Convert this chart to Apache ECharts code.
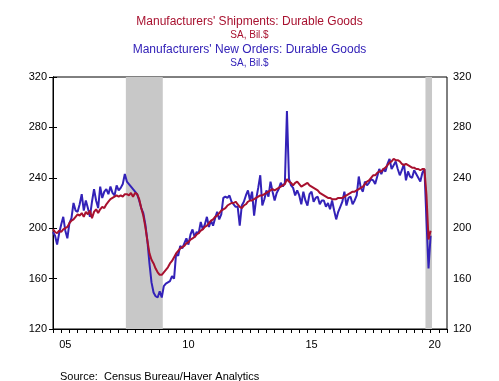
<!DOCTYPE html>
<html>
<head>
<meta charset="utf-8">
<script src="https://cdn.jsdelivr.net/npm/echarts@6/dist/echarts.min.js"></script>
<style>
html,body{margin:0;padding:0;background:#fff;}
#chart{width:499px;height:381px;}
</style>
</head>
<body>
<div id="chart"></div>
<script>
// Monthly data, Jan 2005 .. May 2020
const startYear = 2005;
const shipments = [
  199, 197, 196, 198, 197, 199, 200, 201, 204, 206, 207, 209,
  211, 210, 212, 209, 213, 211, 214, 208, 213, 215, 212, 215,
  217, 216, 219, 221, 223, 224, 225, 226, 225, 226, 225, 227,
  227, 226, 228, 225, 228, 227, 223, 216, 210, 201, 190, 180,
  175, 172, 168, 165, 163, 163, 165, 167, 169, 172, 174, 177,
  180, 182, 184, 185, 186, 188, 189, 191, 192, 193, 195, 196,
  198, 199, 201, 202, 204, 206, 207, 209, 210, 212, 214, 215,
  216, 218, 219, 220, 220, 221, 219, 217, 216, 218, 219, 221,
  222, 222, 223, 224, 225, 226, 226, 227, 228, 229, 230, 231,
  230, 231, 232, 233, 234, 235, 239, 237, 236, 234, 236, 237,
  235, 233, 234, 235, 236, 234, 233, 232, 231, 230, 228, 227,
  226, 225, 224, 224, 223, 223, 223, 224, 224, 224, 225, 226,
  227, 228, 229, 229, 230, 231, 232, 233, 235, 237, 238, 240,
  242, 242, 244, 245, 245, 247, 248, 250, 252, 253, 255, 254,
  254, 253, 251, 250, 251, 250, 249, 248, 248, 247, 247, 246,
  247, 247, 226, 191, 198
];
const newOrders = [
  197, 194, 187, 196, 203, 209, 198, 192, 204, 208, 220, 214,
  213, 219, 227, 214, 222, 216, 209, 221, 231, 222, 216, 233,
  224, 229, 231, 227, 233, 228, 226, 234, 230, 232, 235, 243,
  237, 235, 233, 231, 229, 227, 222, 216, 212, 203, 190, 172,
  157, 149, 146, 145, 150, 145, 154, 156, 157, 158, 162, 160,
  180, 178, 186, 184, 188, 192, 187, 195, 199, 193, 197, 196,
  205, 199, 203, 209, 201, 206, 202, 208, 213, 207, 211, 224,
  225, 224, 226, 221, 219, 217, 217, 202, 218, 221, 226, 230,
  222, 229, 210, 223, 232, 242, 218, 223, 230, 225, 237, 229,
  222, 228, 231, 236, 233, 236, 293, 239, 234, 232, 226, 230,
  226, 219, 229, 222, 218, 227, 229, 221, 224, 225, 219, 222,
  222, 217, 220, 215, 222, 214, 207, 213, 217, 221, 229, 218,
  224, 225, 219, 222, 226, 241, 232, 229, 237, 234, 236, 239,
  238, 235, 241, 247, 243, 247, 245, 251, 255, 247, 250, 253,
  247, 242, 246, 251, 238, 245, 241, 240, 246, 243, 240, 237,
  244, 247, 206, 168, 194
];
// x tick labels (placed mid-year)
const xTickLabels = ['05', '10', '15', '20'];
const xLabelYears = [2005, 2010, 2015, 2020];
// y ticks
const yMin = 120, yMax = 320, yStep = 40;
// recessions as month indices from Jan 2005 (start, end)
const recessions = [[35.5, 53.5], [181.5, 184.7]];

const RED = '#A8112F';
const BLUE = '#3322B8';
const FONT = 'Liberation Sans, Arial, sans-serif';

const toPairs = arr => arr.map((v, i) => [i, v]);
const totalMonths = 192;

const chart = echarts.init(document.getElementById('chart'), null, {renderer: 'canvas'});
const labelAxisFmt = v => {
  const idx = xLabelYears.findIndex(y => (y - startYear) * 12 + 6 === v);
  return idx >= 0 ? xTickLabels[idx] : '';
};

chart.setOption({
  animation: false,
  backgroundColor: '#fff',
  title: [
    {text: "Manufacturers' Shipments: Durable Goods", left: 'center', top: 11,
     textStyle: {color: RED, fontSize: 12, fontWeight: 'normal', fontFamily: FONT}},
    {text: 'SA, Bil.$', left: 'center', top: 25,
     textStyle: {color: RED, fontSize: 10, fontWeight: 'normal', fontFamily: FONT}},
    {text: "Manufacturers' New Orders: Durable Goods", left: 'center', top: 39,
     textStyle: {color: BLUE, fontSize: 12, fontWeight: 'normal', fontFamily: FONT}},
    {text: 'SA, Bil.$', left: 'center', top: 53,
     textStyle: {color: BLUE, fontSize: 10, fontWeight: 'normal', fontFamily: FONT}},
    {text: 'Source:  Census Bureau/Haver Analytics', left: 55, top: 366,
     textStyle: {color: '#000', fontSize: 11, fontWeight: 'normal', fontFamily: FONT}}
  ],
  grid: {left: 53, right: 52, top: 77, height: 252, show: true, borderColor: '#000', borderWidth: 1, backgroundColor: 'transparent'},
  xAxis: [
    {type: 'value', min: 0, max: totalMonths, interval: 4, position: 'bottom',
     axisLine: {show: true, lineStyle: {color: '#000', width: 1}},
     axisTick: {show: true, length: 4, lineStyle: {color: '#000'}},
     axisLabel: {show: false}, splitLine: {show: false}},
    {type: 'value', min: 0, max: totalMonths, interval: 6, position: 'bottom',
     axisLine: {show: false}, axisTick: {show: false}, splitLine: {show: false},
     axisLabel: {show: true, margin: 10, color: '#000', fontSize: 11, fontFamily: FONT, formatter: labelAxisFmt, showMinLabel: true, showMaxLabel: true}}
  ],
  yAxis: [
    {type: 'value', min: yMin, max: yMax, interval: yStep, position: 'left',
     axisLine: {show: true, lineStyle: {color: '#000'}},
     axisTick: {show: true, length: 4, lineStyle: {color: '#000'}},
     axisLabel: {margin: 6, color: '#000', fontSize: 11, fontFamily: FONT},
     splitLine: {show: false}},
    {type: 'value', min: yMin, max: yMax, interval: yStep, position: 'right',
     axisLine: {show: true, lineStyle: {color: '#000'}},
     axisTick: {show: true, length: 4, lineStyle: {color: '#000'}},
     axisLabel: {margin: 6, color: '#000', fontSize: 11, fontFamily: FONT},
     splitLine: {show: false}}
  ],
  series: [
    {name: 'Recessions', type: 'line', data: [], xAxisIndex: 0, yAxisIndex: 0,
     markArea: {silent: true, itemStyle: {color: '#C8C8C8'},
       data: recessions.map(r => [{xAxis: r[0]}, {xAxis: r[1]}])}},
    {name: 'New Orders', type: 'line', data: toPairs(newOrders), xAxisIndex: 0, yAxisIndex: 0,
     showSymbol: false, lineStyle: {color: BLUE, width: 2}, itemStyle: {color: BLUE}, z: 3},
    {name: 'Shipments', type: 'line', data: toPairs(shipments), xAxisIndex: 0, yAxisIndex: 0,
     showSymbol: false, lineStyle: {color: RED, width: 2}, itemStyle: {color: RED}, z: 4}
  ]
});
</script>
</body>
</html>
